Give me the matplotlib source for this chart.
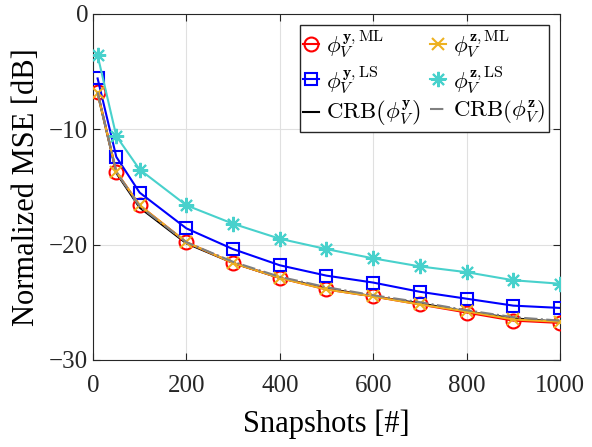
import matplotlib
matplotlib.use('Agg')
from matplotlib import rcParams
rcParams['font.family'] = 'serif'
rcParams['font.serif'] = ['Liberation Serif', 'DejaVu Serif']
rcParams['mathtext.fontset'] = 'cm'
import matplotlib.pyplot as plt

# data
snapshots = [10, 50, 100, 200, 300, 400, 500, 600, 700, 800, 900, 1000]
ml_y  = [-6.8, -13.7, -16.6, -19.8, -21.6, -22.9, -23.9, -24.5, -25.2, -25.9, -26.6, -26.8]
ml_z  = [-6.9, -13.7, -16.6, -19.8, -21.6, -22.9, -23.9, -24.5, -25.2, -25.8, -26.5, -26.7]
ls_y  = [-5.6, -12.4, -15.5, -18.6, -20.4, -21.8, -22.7, -23.3, -24.1, -24.7, -25.3, -25.5]
ls_z  = [-3.6, -10.6, -13.5, -16.6, -18.2, -19.5, -20.4, -21.2, -21.9, -22.4, -23.1, -23.4]
crb_y = [-6.9, -13.8, -16.8, -19.9, -21.6, -22.9, -23.8, -24.5, -25.1, -25.8, -26.4, -26.7]
crb_z = [-6.8, -13.7, -16.7, -19.8, -21.5, -22.8, -23.7, -24.4, -25.0, -25.7, -26.3, -26.6]

fig = plt.figure(figsize=(5.92, 4.47), dpi=100)
ax = fig.add_axes([0.157, 0.195, 0.789, 0.774])

ax.plot(snapshots, ml_y, '-o', color='red', lw=1.5, ms=10, mfc='none', mew=1.5,
        label=r'$\phi_V^{\mathbf{y},\mathrm{ML}}$', zorder=3)
ax.plot(snapshots, ml_z, '-x', color='#EDB120', lw=1.5, ms=8, mew=1.5,
        label=r'$\phi_V^{\mathbf{z},\mathrm{ML}}$', zorder=4)
ax.plot(snapshots, ls_y, '-s', color='blue', lw=1.5, ms=8, mfc='none', mew=1.5,
        label=r'$\phi_V^{\mathbf{y},\mathrm{LS}}$', zorder=3)
ax.plot(snapshots, ls_z, '-', marker=(8, 2, 0), color='#48D1CC', lw=1.5, ms=11, mew=1.5,
        label=r'$\phi_V^{\mathbf{z},\mathrm{LS}}$', zorder=3)
ax.plot(snapshots, crb_y, '-', color='black', lw=1.5,
        label=r'$\mathrm{CRB}\left(\phi_V^{\mathbf{y}}\right)$', zorder=2)
ax.plot(snapshots, crb_z, '-.', color='gray', lw=1.5,
        label=r'$\mathrm{CRB}\left(\phi_V^{\mathbf{z}}\right)$', zorder=5)

ax.set_xlim(0, 1000)
ax.set_ylim(-30, 0)
ax.set_xticks([0, 200, 400, 600, 800, 1000])
ax.set_yticks([-30, -20, -10, 0])
ax.set_xlabel('Snapshots [#]', fontsize=22, labelpad=9)
ax.set_ylabel('Normalized MSE [dB]', fontsize=22, labelpad=6)
ax.tick_params(axis='both', which='major', direction='in', right=True, top=True,
               labelsize=18, colors='#262626', length=5)
ax.tick_params(axis='x', pad=11)
for s in ax.spines.values():
    s.set_color('#262626')
ax.grid(True, color='#e0e0e0', lw=0.8)

handles, labels = ax.get_legend_handles_labels()
order = [0, 2, 4, 1, 3, 5]
ax.legend([handles[i] for i in order], [labels[i] for i in order], ncol=2,
          loc='upper right', fontsize=16.5, handlelength=0.7, handletextpad=0.3,
          columnspacing=0.4, labelspacing=0.15, borderpad=0.15, borderaxespad=0.5,
          fancybox=False, edgecolor='#262626', framealpha=1)

fig.savefig('out.png', dpi=100)
plt.close(fig)
